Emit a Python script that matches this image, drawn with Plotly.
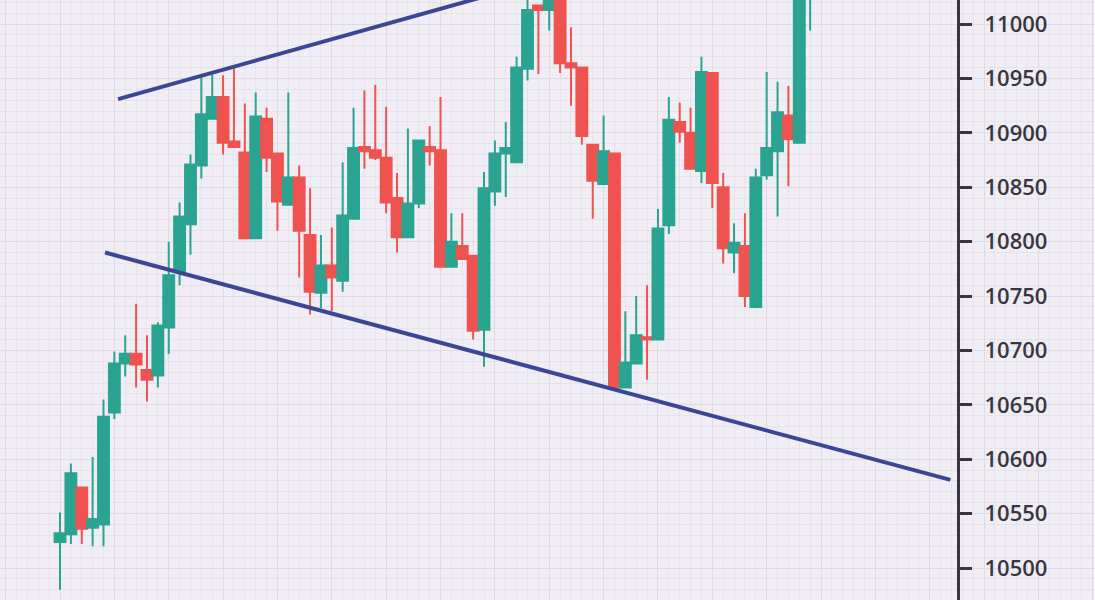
import plotly.graph_objects as go

# ---- data (index = trading session) ----
open_ = [10524, 10531, 10574, 10537, 10540, 10643, 10688, 10697, 10682, 10677,
         10721, 10772, 10816, 10870, 10913, 10933, 10892, 10882, 10803, 10913,
         10881, 10834, 10859, 10806, 10753, 10778, 10764, 10821, 10887, 10884,
         10877, 10840, 10804, 10835, 10887, 10884, 10777, 10796, 10787, 10719,
         10846, 10881, 10873, 10959, 11017, 11013, 11031, 10964, 10960, 10889,
         10853, 10881, 10666, 10688, 10712, 10710, 10815, 10910, 10900, 10865,
         10955, 10850, 10790, 10796, 10740, 10861, 10883, 10916, 10891, 11027]
close = [10532, 10587, 10536, 10545, 10639, 10688, 10697, 10687, 10673, 10723,
         10769, 10823, 10871, 10917, 10933, 10891, 10887, 10803, 10915, 10877,
         10837, 10859, 10810, 10754, 10778, 10767, 10824, 10886, 10883, 10877,
         10836, 10804, 10835, 10893, 10883, 10777, 10800, 10784, 10718, 10849,
         10881, 10886, 10960, 11013, 11013, 11027, 10964, 10960, 10897, 10856,
         10883, 10666, 10689, 10714, 10710, 10812, 10912, 10901, 10867, 10956,
         10854, 10794, 10799, 10750, 10859, 10886, 10919, 10894, 11031, 11036]
high = [10551, 10596, 10574, 10602, 10655, 10699, 10714, 10743, 10714, 10726,
        10800, 10836, 10880, 10951, 10955, 10953, 10962, 10927, 10937, 10923,
        10881, 10937, 10870, 10849, 10806, 10813, 10873, 10923, 10939, 10944,
        10924, 10863, 10904, 10893, 10906, 10933, 10826, 10826, 10787, 10864,
        10893, 10910, 10970, 11027, 11017, 11031, 11036, 10997, 10960, 10889,
        10916, 10881, 10736, 10750, 10760, 10830, 10933, 10928, 10923, 10970,
        10955, 10863, 10817, 10826, 10867, 10956, 10947, 10943, 11040, 11040]
low = [10480, 10522, 10522, 10520, 10520, 10637, 10676, 10666, 10653, 10666,
       10697, 10760, 10788, 10858, 10912, 10880, 10887, 10803, 10803, 10864,
       10810, 10834, 10767, 10733, 10739, 10736, 10754, 10821, 10867, 10875,
       10826, 10790, 10804, 10831, 10870, 10777, 10777, 10784, 10710, 10685,
       10833, 10841, 10873, 10948, 10954, 10994, 10955, 10925, 10889, 10821,
       10853, 10666, 10666, 10688, 10673, 10710, 10807, 10891, 10867, 10854,
       10831, 10780, 10771, 10740, 10740, 10857, 10823, 10851, 10891, 10994]
session = list(range(len(open_)))

upper_x = [5.34, 40.0]
upper_y = [10931, 11028]
lower_x = [4.14, 81.9]
lower_y = [10790, 10581]

y_ticks = [10500, 10550, 10600, 10650, 10700, 10750, 10800, 10850, 10900, 10950, 11000]

# ---- styles ----
GREEN = "#2aa491"
RED = "#ef5350"
LINE = "#3b4795"
AXIS = "#3a3542"
BG = "#f0eef4"
GRID_MAJ = "#dedbe4"
GRID_MIN = "#e6e3eb"

fig = go.Figure()
fig.add_trace(go.Candlestick(
    x=session, open=open_, high=high, low=low, close=close,
    increasing=dict(line=dict(color=GREEN, width=2), fillcolor=GREEN),
    decreasing=dict(line=dict(color=RED, width=2), fillcolor=RED),
    whiskerwidth=0, showlegend=False, hoverinfo="skip",
))
fig.add_trace(go.Scatter(x=upper_x, y=upper_y, mode="lines",
                         line=dict(color=LINE, width=4), showlegend=False, hoverinfo="skip"))
fig.add_trace(go.Scatter(x=lower_x, y=lower_y, mode="lines",
                         line=dict(color=LINE, width=4), showlegend=False, hoverinfo="skip"))

fig.update_layout(
    width=1095, height=600,
    margin=dict(l=0, r=0, t=0, b=0),
    paper_bgcolor=BG, plot_bgcolor=BG,
    boxgap=0, boxgroupgap=0,
    xaxis=dict(
        range=[-5.52, 95.2], domain=[0, 1],
        rangeslider=dict(visible=False),
        showticklabels=False, ticks="", zeroline=False, showline=False,
        showgrid=True, tick0=0, dtick=5, gridcolor=GRID_MAJ, gridwidth=1,
        minor=dict(dtick=1, showgrid=True, gridcolor=GRID_MIN, gridwidth=1),
    ),
    yaxis=dict(
        range=[10470.6, 11022.1], side="right", anchor="free", position=0.875,
        tickvals=y_ticks, ticktext=[str(v) for v in y_ticks],
        ticks="outside", ticklen=12, tickwidth=2.5, tickcolor=AXIS,
        showline=True, linewidth=3, linecolor=AXIS,
        tickfont=dict(family="Open Sans", size=22, color=AXIS, weight=600),
        ticklabelstandoff=8,
        zeroline=False,
        showgrid=True, gridcolor=GRID_MAJ, gridwidth=1,
        minor=dict(dtick=10, tick0=10500, showgrid=True, gridcolor=GRID_MIN, gridwidth=1),
    ),
)

fig.write_html(
    "out.html",
    config={"displayModeBar": False},
    post_script="document.body.style.margin='0';document.body.style.padding='0';",
)
